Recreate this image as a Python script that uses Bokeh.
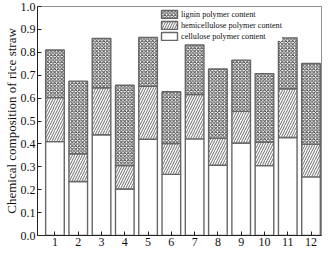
import numpy as np
from bokeh.plotting import figure
from bokeh.models import ColumnDataSource, Legend, LegendItem, FixedTicker, Range1d
from bokeh.embed import file_html
from bokeh.resources import INLINE

samples = [str(i) for i in range(1, 13)]
x_pos = list(range(1, 13))
cellulose = [0.410, 0.236, 0.440, 0.203, 0.420, 0.267, 0.422, 0.307, 0.404, 0.305, 0.428, 0.256]
hemicellulose = [0.192, 0.121, 0.205, 0.102, 0.232, 0.135, 0.194, 0.117, 0.138, 0.103, 0.213, 0.142]
lignin = [0.208, 0.317, 0.216, 0.351, 0.213, 0.226, 0.216, 0.303, 0.224, 0.299, 0.222, 0.353]
y_ticks = [0.0, 0.1, 0.2, 0.3, 0.4, 0.5, 0.6, 0.7, 0.8, 0.9, 1.0]

c = np.array(cellulose)
h = np.array(hemicellulose)
l = np.array(lignin)
src = ColumnDataSource(dict(
    x=x_pos,
    c_top=c, h_bot=c, h_top=c + h, l_bot=c + h, l_top=c + h + l,
))

FONT = "Liberation Serif"
EDGE = "#666666"

p = figure(width=323, height=248, output_backend="svg", toolbar_location=None,
           x_range=Range1d(0.25, 12.45), y_range=Range1d(0, 1.0),
           min_border_left=0, min_border_right=2, min_border_top=6, min_border_bottom=0)
p.xgrid.visible = False
p.ygrid.visible = False
p.outline_line_color = "#909090"
p.outline_line_width = 1
p.background_fill_color = "white"

W = 0.8
r_c = p.vbar(x="x", bottom=0, top="c_top", width=W, source=src,
             fill_color="white", line_color=EDGE, line_width=1.4)
r_h = p.vbar(x="x", bottom="h_bot", top="h_top", width=W, source=src,
             fill_color="white", line_color=EDGE, line_width=1.4,
             hatch_pattern="/", hatch_color="#444444", hatch_scale=5, hatch_weight=0.8)
r_l = p.vbar(x="x", bottom="l_bot", top="l_top", width=W, source=src,
             fill_color="white", line_color=EDGE, line_width=1.4,
             hatch_pattern="x", hatch_color="#333333", hatch_scale=3.5, hatch_weight=0.9)

p.xaxis.ticker = FixedTicker(ticks=x_pos)
p.xaxis.major_label_overrides = {x: s for x, s in zip(x_pos, samples)}
p.yaxis.ticker = FixedTicker(ticks=y_ticks)
p.yaxis.major_label_overrides = {t: f"{t:.1f}" for t in y_ticks}
for ax in (p.xaxis, p.yaxis):
    ax.major_tick_in = 4
    ax.major_tick_out = 0
    ax.minor_tick_line_color = None
    ax.axis_line_color = "#222222"
    ax.major_tick_line_color = "#222222"
    ax.major_label_text_font = FONT
    ax.major_label_text_font_size = "12px"
    ax.major_label_text_color = "#111111"
    ax.major_label_standoff = 2
p.yaxis.major_label_standoff = 2
p.yaxis.axis_label = "Chemical composition of rice straw"
p.yaxis.axis_label_text_font = FONT
p.yaxis.axis_label_text_font_style = "normal"
p.yaxis.axis_label_text_font_size = "13px"
p.yaxis.axis_label_text_color = "#111111"
p.yaxis.axis_label_standoff = -1

legend = Legend(items=[
    LegendItem(label="lignin polymer content", renderers=[r_l]),
    LegendItem(label="hemicellulose polymer content", renderers=[r_h]),
    LegendItem(label="cellulose polymer content", renderers=[r_c]),
], location=(122, 194))
legend.label_text_font = FONT
legend.label_text_font_size = "8.2px"
legend.label_text_color = "#111111"
legend.glyph_width = 20
legend.glyph_height = 10
legend.label_height = 10
legend.spacing = 1
legend.padding = 1
legend.margin = 0
legend.label_standoff = 2
legend.border_line_color = None
legend.background_fill_color = "white"
legend.background_fill_alpha = 1
p.add_layout(legend)

open("out.html", "w").write(file_html(p, INLINE))
